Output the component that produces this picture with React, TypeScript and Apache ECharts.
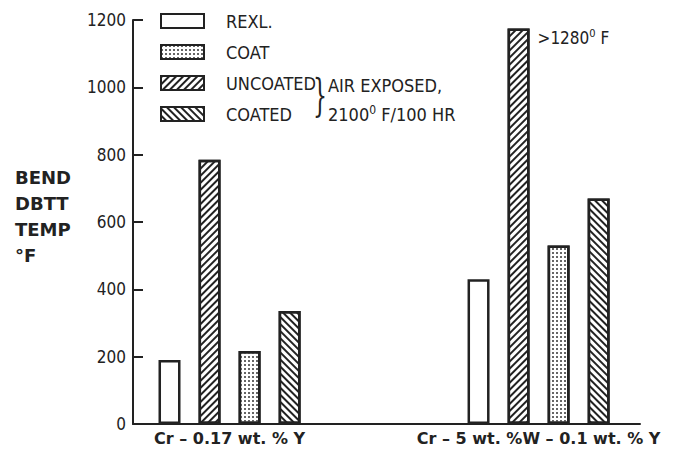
import React, { useEffect, useRef } from "react";
import * as echarts from "echarts";

// ---- data ----
const categories = ["Cr – 0.17 wt. % Y", "Cr – 5 wt. %W – 0.1 wt. % Y"];
const seriesNames = ["REXL.", "UNCOATED", "COAT", "COATED"];
const legendOrder = ["REXL.", "COAT", "UNCOATED", "COATED"];
const rexl = [190, 430];
const uncoated = [785, 1175]; // second bar is broken off-scale (>1280 °F)
const coat = [217, 530];
const coated = [336, 670];
const yMin = 0;
const yMax = 1200;
const yStep = 200;

// ---- layout (not data) ----
const groupPos = [1, 4.2];
const xMax = 5.25;

const NARROW = "'Liberation Sans Narrow', 'DejaVu Sans Condensed', sans-serif";
const BOLD = "'DejaVu Sans', 'Liberation Sans', sans-serif";
const INK = "#222";

const hatchFwd = {
  symbol: "rect",
  symbolSize: 1,
  dashArrayX: [1, 0],
  dashArrayY: [2, 3],
  rotation: -Math.PI / 4,
  color: INK,
};
const hatchBack = { ...hatchFwd, rotation: Math.PI / 4 };
const dots = {
  symbol: "rect",
  symbolSize: 1,
  dashArrayX: [1.5, 1.5],
  dashArrayY: [1.5, 1.5],
  color: "#666",
};

export default function App() {
  const ref = useRef<HTMLDivElement>(null);
  useEffect(() => {
    if (!ref.current) return;
    const chart = echarts.init(ref.current, null, { renderer: "svg" });
    const mk = (name: string, vals: number[], decal: any, extra?: (i: number) => any) => ({
      type: "bar",
      name,
      barWidth: 22,
      barGap: "82%",
      itemStyle: {
        color: "#fff",
        borderColor: INK,
        borderWidth: 2.5,
        decal: decal || undefined,
      },
      data: vals.map((v, i) => {
        const base: any = { value: [groupPos[i], v] };
        const e = extra ? extra(i) : null;
        return e ? { ...base, ...e } : base;
      }),
    });
    chart.setOption({
      animation: false,
      backgroundColor: "#fff",
      aria: { enabled: false },
      grid: { left: 133, right: 41, top: 20, bottom: 31 },
      legend: {
        orient: "vertical",
        left: 160,
        top: 11,
        padding: 0,
        itemWidth: 43,
        itemHeight: 14,
        itemGap: 11,
        icon: "rect",
        data: legendOrder,
        selectedMode: false,
        textStyle: {
          fontFamily: NARROW,
          fontSize: 18,
          lineHeight: 20,
          color: INK,
          padding: [0, 0, 0, 17],
        },
      },
      xAxis: {
        type: "value",
        min: 0,
        max: xMax,
        splitLine: { show: false },
        axisTick: { show: false },
        axisLine: { show: true, lineStyle: { color: INK, width: 2 } },
        axisLabel: {
          customValues: groupPos,
          formatter: (v: number) => {
            const i = groupPos.indexOf(v);
            return i >= 0 ? categories[i] : "";
          },
          fontFamily: BOLD,
          fontWeight: "bold",
          fontSize: 16,
          color: INK,
          margin: 6,
        },
      },
      yAxis: {
        type: "value",
        min: yMin,
        max: yMax,
        interval: yStep,
        splitLine: { show: false },
        axisLine: { show: true, lineStyle: { color: INK, width: 2 } },
        axisTick: { show: true, inside: true, length: 10, lineStyle: { color: INK, width: 2 } },
        axisLabel: {
          fontFamily: NARROW,
          fontSize: 17,
          color: INK,
          margin: 7,
          formatter: (v: number) => String(v),
        },
      },
      graphic: [
        {
          type: "text",
          left: 15,
          top: 164,
          style: {
            text: "BEND\nDBTT\nTEMP\n°F",
            fontFamily: BOLD,
            fontWeight: "bold",
            fontSize: 18,
            lineHeight: 26,
            fill: INK,
          },
        },
        {
          type: "text",
          left: 313,
          top: 74,
          scaleX: 0.5,
          style: { text: "}", fontFamily: "'DejaVu Serif', serif", fontSize: 44, fill: INK, fontWeight: 100 },
        },
        {
          type: "text",
          left: 328,
          top: 76,
          style: { text: "AIR EXPOSED,", fontFamily: NARROW, fontSize: 18, fill: INK },
        },
        {
          type: "text",
          left: 328,
          top: 104,
          style: {
            text: "2100{sup|0} F/100 HR",
            fontFamily: NARROW,
            fontSize: 18,
            fill: INK,
            rich: { sup: { fontFamily: NARROW, fontSize: 12, verticalAlign: "top", padding: [0, 0, 8, 0] } },
          },
        },
      ],
      series: [
        mk(seriesNames[0], rexl, null),
        mk(seriesNames[1], uncoated, hatchFwd, (i) =>
          i === 1
            ? {
                label: {
                  show: true,
                  position: [30, 0],
                  formatter: ">1280{sup|0} F",
                  fontFamily: NARROW,
                  fontSize: 17,
                  color: INK,
                  rich: { sup: { fontFamily: NARROW, fontSize: 11, padding: [0, 0, 8, 0] } },
                },
              }
            : null
        ),
        mk(seriesNames[2], coat, dots),
        mk(seriesNames[3], coated, hatchBack),
      ],
    });
    return () => chart.dispose();
  }, []);
  return <div ref={ref} style={{ width: 681, height: 455, margin: -8 }} />;
}
